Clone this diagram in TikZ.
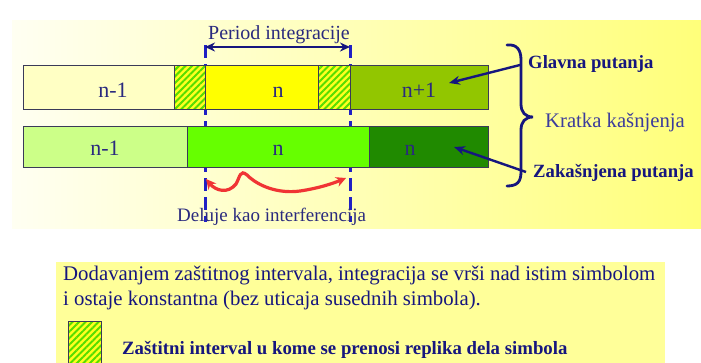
\documentclass[tikz,border=0pt]{standalone}
\usepackage{fontspec}
\setmainfont{Liberation Serif}
\usetikzlibrary{arrows.meta,patterns.meta}
\definecolor{navy}{HTML}{16167E}
\definecolor{labnavy}{HTML}{2A2A7E}
\definecolor{lightnavy}{HTML}{3C3C9C}
\definecolor{dashblue}{HTML}{2020C4}
\definecolor{boxline}{HTML}{3A3A58}
\definecolor{cream}{HTML}{FFFFC4}
\definecolor{ylw}{HTML}{FFFF00}
\definecolor{olive}{HTML}{92C600}
\definecolor{lgreen}{HTML}{CCFF88}
\definecolor{bgreen}{HTML}{66FF00}
\definecolor{dgreen}{HTML}{208A00}
\definecolor{hatchgreen}{HTML}{55DD00}
\definecolor{hatchyellow}{HTML}{FFFF20}
\definecolor{redarrow}{HTML}{F03434}
\definecolor{panelleft}{HTML}{FFFFF2}
\definecolor{panelright}{HTML}{FFFF7A}
\definecolor{panelbottom}{HTML}{FFFF99}
\begin{document}
\begin{tikzpicture}[x=1pt,y=-1pt,
  box/.style={draw=boxline, line width=0.8pt, inner sep=0pt, outer sep=0pt},
  rowa/.style={box, minimum height=44pt},
  rowb/.style={box, minimum height=41pt},
  hatch/.style={preaction={fill=hatchyellow}, pattern={Lines[angle=45,distance=4.6pt,line width=2pt]}, pattern color=hatchgreen},
  lab/.style={font=\fontsize{22}{26}\selectfont, text=labnavy, anchor=base, inner sep=0pt},
  dashline/.style={dashblue, line width=3pt, dash pattern=on 13pt off 6pt},
  bluearrow/.style={navy, line width=2.4pt, -{Stealth[length=11pt,width=9pt]}},
  bracestyle/.style={navy, line width=2.8pt, line cap=round},
  side/.style={font=\fontsize{18.7}{22}\selectfont\bfseries, text=navy, anchor=base west, inner sep=0pt},
  bodytext/.style={font=\fontsize{20.8}{25}\selectfont, text=navy, anchor=base west, inner sep=0pt}
]
\useasboundingbox (0,0) rectangle (701,362);
% panels
\shade[left color=panelleft, right color=panelright] (12,20) rectangle (701,228);
\fill[panelbottom] (56,262) rectangle (665,364);

% dashed integration limits (behind boxes)
\coordinate (l1) at (205,45);
\coordinate (l2) at (205,222);
\coordinate (r1) at (350,45);
\coordinate (r2) at (350,222);
\draw[dashline] (l1) -- (l2);
\draw[dashline] (r1) -- (r2);

% row 1
\node[rowa, fill=cream, minimum width=151pt] (a1) at (98.5,87) {};
\node[rowa, hatch, minimum width=31pt] (h1) at (189.5,87) {};
\node[rowa, fill=ylw, minimum width=113pt] (y1) at (261.5,87) {};
\node[rowa, hatch, minimum width=32pt] (h2) at (334,87) {};
\node[rowa, fill=olive, minimum width=138pt] (g1) at (419,87) {};
\node[lab] (ta1) at (113,97) {n-1};
\node[lab] (ty1) at (278,97) {n};
\node[lab] (tg1) at (419,97) {n+1};

% row 2
\node[rowb, fill=lgreen, minimum width=164pt] (a2) at (105,146.5) {};
\node[rowb, fill=bgreen, minimum width=182pt] (b2) at (278,146.5) {};
\node[rowb, fill=dgreen, minimum width=119pt] (d2) at (428.5,146.5) {};
\node[lab] (ta2) at (105,155) {n-1};
\node[lab] (tb2) at (278,155) {n};
\node[lab] (td2) at (410,155) {n};

% period of integration
\coordinate (p1) at (205,47);
\coordinate (p2) at (350,47);
\draw[navy, line width=2.4pt, {Stealth[length=10pt,width=9pt]}-{Stealth[length=10pt,width=9pt]}] (p1) -- (p2);
\node[font=\fontsize{20}{24}\selectfont, text=labnavy, anchor=base west, inner sep=0pt] (per) at (208,39) {Period integracije};

% red interference arrow
\coordinate (q1) at (206,179);
\coordinate (q2) at (346,178);
\draw[redarrow, line width=3.2pt, {Stealth[length=10pt,width=10pt]}-{Stealth[length=10pt,width=10pt]}]
  (q1) .. controls (216,191) and (228,194) .. (236,184)
       .. controls (240,177) and (240,169) .. (247,175)
       .. controls (258,186) and (278,194) .. (300,191)
       .. controls (320,188) and (334,183) .. (q2);
\node[font=\fontsize{19}{23}\selectfont, text=labnavy, anchor=base west, inner sep=0pt] (del) at (177,221) {Deluje kao interferencija};

% brace
\draw[bracestyle] (507,45) .. controls (517,44) and (521,50) .. (521,60) -- (521,104)
   .. controls (521,112) and (525,117) .. (533,117)
   .. controls (525,117) and (521,122) .. (521,130) -- (521,172)
   .. controls (521,182) and (517,186) .. (507,186);

% side labels
\node[side] (glav) at (528,68) {Glavna putanja};
\node[font=\fontsize{20.7}{24}\selectfont, text=lightnavy, anchor=base west, inner sep=0pt] (krat) at (545,127) {Kratka kašnjenja};
\node[side] (zak) at (533,177) {Zakašnjena putanja};
\coordinate (gtail) at (520,65);
\coordinate (gtip) at (449,83);
\coordinate (ztail) at (526,172);
\coordinate (ztip) at (454,147);
\draw[bluearrow] (gtail) -- (gtip);
\draw[bluearrow] (ztail) -- (ztip);

% bottom explanation
\node[bodytext] (t1) at (63,280) {Dodavanjem zaštitnog intervala, integracija se vrši nad istim simbolom};
\node[bodytext] (t2) at (63,305) {i ostaje konstantna (bez uticaja susednih simbola).};
\node[box, hatch, minimum width=33pt, minimum height=44pt] (leg) at (84.5,343) {};
\node[font=\fontsize{18.8}{22}\selectfont\bfseries, text=navy, anchor=base west, inner sep=0pt] (legt) at (122,354) {Zaštitni interval u kome se prenosi replika dela simbola};
\end{tikzpicture}
\end{document}
